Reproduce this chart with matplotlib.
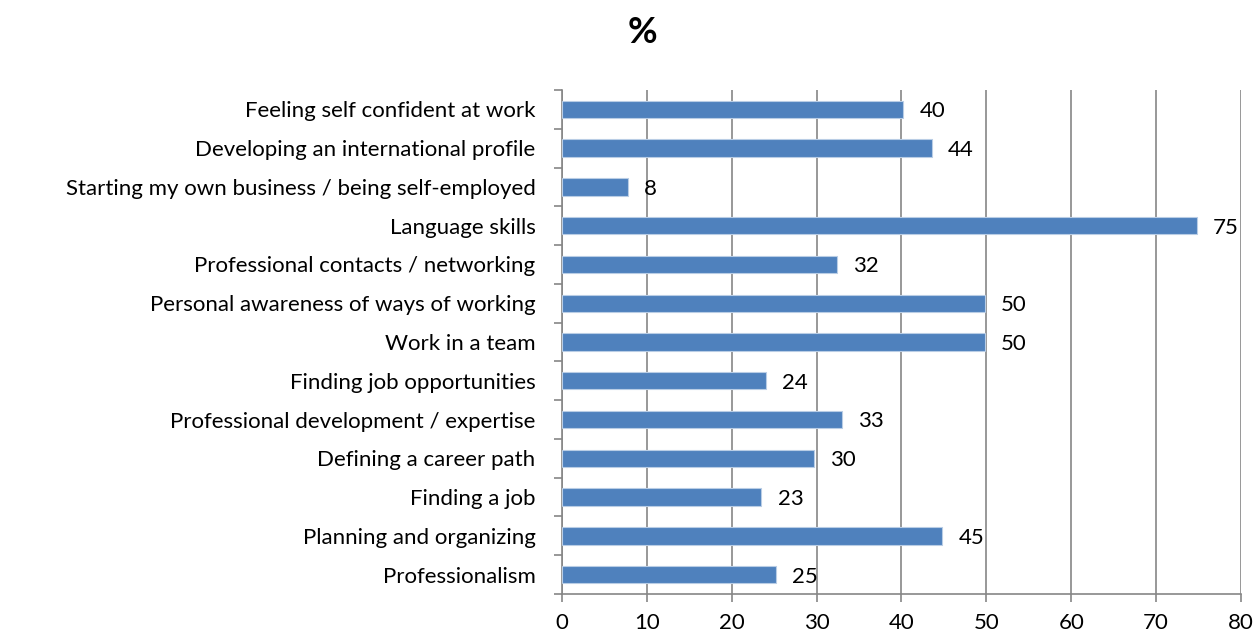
import numpy as np
import matplotlib.pyplot as plt

plt.rcParams.update({'font.family': ['Lato', 'DejaVu Sans'], 'font.size': 12})

categories = ['Feeling self confident at work',
              'Developing an international profile',
              'Starting my own business / being self-employed',
              'Language skills',
              'Professional contacts / networking',
              'Personal awareness of ways of working',
              'Work in a team',
              'Finding job opportunities',
              'Professional development / expertise',
              'Defining a career path',
              'Finding a job',
              'Planning and organizing',
              'Professionalism']
values = [40.2, 43.6, 7.8, 74.8, 32.4, 49.8, 49.8, 24.0, 33.0, 29.7, 23.5, 44.8, 25.2]
labels = [40, 44, 8, 75, 32, 50, 50, 24, 33, 30, 23, 45, 25]
xticks = [0, 10, 20, 30, 40, 50, 60, 70, 80]

grey = '#868686'
fs = 16
fig = plt.figure(figsize=(12.58, 6.41), dpi=100)
ax = fig.add_axes([0.4467, 0.0733, 0.5398, 0.7863])

y = np.arange(len(categories))[::-1]
ax.barh(y, values, height=0.45, color='#4F81BD', edgecolor='#B9CDE5', linewidth=0.8, zorder=3)
for yi, v, lab in zip(y, values, labels):
    ax.text(v + 1.9, yi - 0.05, str(lab), va='center', ha='left', fontsize=fs)

ax.set_xlim(0, 80)
ax.set_ylim(-0.5, len(categories) - 0.5)
ax.set_xticks(xticks)
ax.set_yticks(y)
ax.set_yticklabels(categories, fontsize=fs)
ax.set_yticks(np.arange(len(categories) + 1) - 0.5, minor=True)
ax.tick_params(axis='y', which='major', length=0, pad=19)
ax.tick_params(axis='y', which='minor', length=6, color=grey, width=1.2)
ax.tick_params(axis='x', length=6, color=grey, width=1.2, labelsize=fs, pad=8)
ax.grid(axis='x', color=grey, linewidth=1.2, zorder=0)
for s in ['top', 'right']:
    ax.spines[s].set_visible(False)
for s in ['left', 'bottom']:
    ax.spines[s].set_color(grey)
    ax.spines[s].set_linewidth(1.2)

fig.text(0.511, 0.95, '%', ha='center', va='center', fontsize=26, fontweight='bold')
fig.savefig('out.png', dpi=100)
